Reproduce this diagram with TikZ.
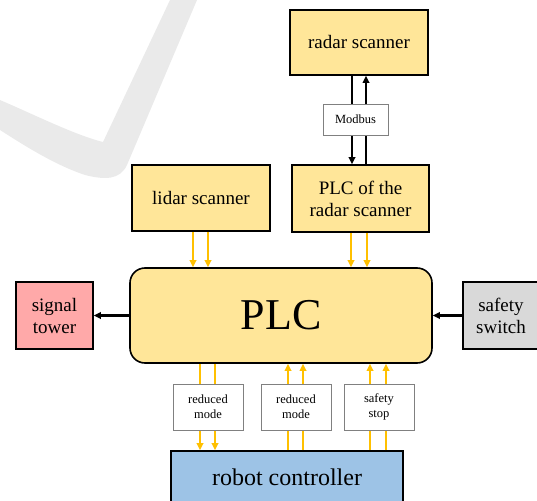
\documentclass[tikz,border=0pt]{standalone}
\usepackage{fontspec}
\setmainfont{Liberation Serif}
\usetikzlibrary{arrows.meta,calc}
\definecolor{boxyellow}{HTML}{FFE699}
\definecolor{arrowyellow}{HTML}{FFC000}
\definecolor{towerpink}{HTML}{FFA9A9}
\definecolor{switchgray}{HTML}{D9D9D9}
\definecolor{robotblue}{HTML}{9DC3E6}
\definecolor{wmgray}{HTML}{EAEAEA}
\tikzset{
  bigbox/.style={draw=black, line width=1.6pt, align=center, inner sep=0pt, font=\fontsize{19}{22}\selectfont},
  labelbox/.style={draw=gray, line width=0.8pt, fill=white, align=center, inner sep=0pt, minimum width=70pt, minimum height=46pt, font=\fontsize{12.5}{15}\selectfont},
  ya/.style={draw=arrowyellow, line width=2.2pt, -{Triangle[length=7pt,width=6.5pt]}},
  ba/.style={draw=black, line width=2.2pt, -{Triangle[length=7pt,width=6.5pt]}},
}
\begin{document}
\begin{tikzpicture}[x=1pt,y=-1pt]
\useasboundingbox (0,0) rectangle (537,500);
\begin{scope}
\clip (0,0) rectangle (537,500);
% watermark
\fill[wmgray] (0,100) .. controls (35,115) and (75,135) .. (103,142) -- (170,0) -- (197,0) -- (127,165) .. controls (120,180) and (105,180) .. (85,175) .. controls (55,165) and (25,146) .. (0,130) -- cycle;

\node[bigbox, fill=boxyellow, minimum width=138pt, minimum height=65pt] (radar) at (359,42.5) {radar scanner};
\node[bigbox, fill=boxyellow, minimum width=137pt, minimum height=67pt] (plcr) at (360.5,198.5) {PLC of the\\radar scanner};
\node[bigbox, fill=boxyellow, minimum width=138pt, minimum height=66pt] (lidar) at (201,198) {lidar scanner};
\node[bigbox, fill=boxyellow, rounded corners=15pt, minimum width=302pt, minimum height=95pt, font=\fontsize{44}{48}\selectfont] (plc) at (281,315.5) {PLC};
\node[bigbox, fill=towerpink, minimum width=77pt, minimum height=67pt] (tower) at (54.5,315.5) {signal\\tower};
\node[bigbox, fill=switchgray, minimum width=76pt, minimum height=67pt] (switch) at (501,315.5) {safety\\switch};
\node[bigbox, fill=robotblue, minimum width=232pt, minimum height=52pt, font=\fontsize{24}{28}\selectfont] (robot) at (287,477) {robot controller};

% Modbus arrows
\draw[ba] ([xshift=-7pt]radar.south) -- ([xshift=-7pt]radar.south |- plcr.north);
\draw[ba] ([xshift=7pt]radar.south |- plcr.north) -- ([xshift=7pt]radar.south);
% sensor arrows
\draw[ya] ([xshift=-8pt]lidar.south) -- ([xshift=-8pt]lidar.south |- plc.north);
\draw[ya] ([xshift=7pt]lidar.south) -- ([xshift=7pt]lidar.south |- plc.north);
\draw[ya] ([xshift=-9.5pt]plcr.south) -- ([xshift=-9.5pt]plcr.south |- plc.north);
\draw[ya] ([xshift=6.5pt]plcr.south) -- ([xshift=6.5pt]plcr.south |- plc.north);
% side arrows
\draw[ba] (plc.west) -- (tower.east);
\draw[ba] (switch.west) -- (plc.east);
% bottom arrows
\draw[ya] ([xshift=-81pt]plc.south) -- ([xshift=-81pt]plc.south |- robot.north);
\draw[ya] ([xshift=-66pt]plc.south) -- ([xshift=-66pt]plc.south |- robot.north);
\draw[ya] ([xshift=7pt]plc.south |- robot.north) -- ([xshift=7pt]plc.south);
\draw[ya] ([xshift=22pt]plc.south |- robot.north) -- ([xshift=22pt]plc.south);
\draw[ya] ([xshift=89pt]plc.south |- robot.north) -- ([xshift=89pt]plc.south);
\draw[ya] ([xshift=105pt]plc.south |- robot.north) -- ([xshift=105pt]plc.south);

% labels
\node[labelbox, minimum width=65pt, minimum height=31pt] (modbus) at (355.5,119.5) {Modbus};
\node[labelbox] (rm1) at (208,407) {reduced\\mode};
\node[labelbox] (rm2) at (296,407) {reduced\\mode};
\node[labelbox] (sstop) at (379,407) {safety\\stop};
\end{scope}
\end{tikzpicture}
\end{document}
